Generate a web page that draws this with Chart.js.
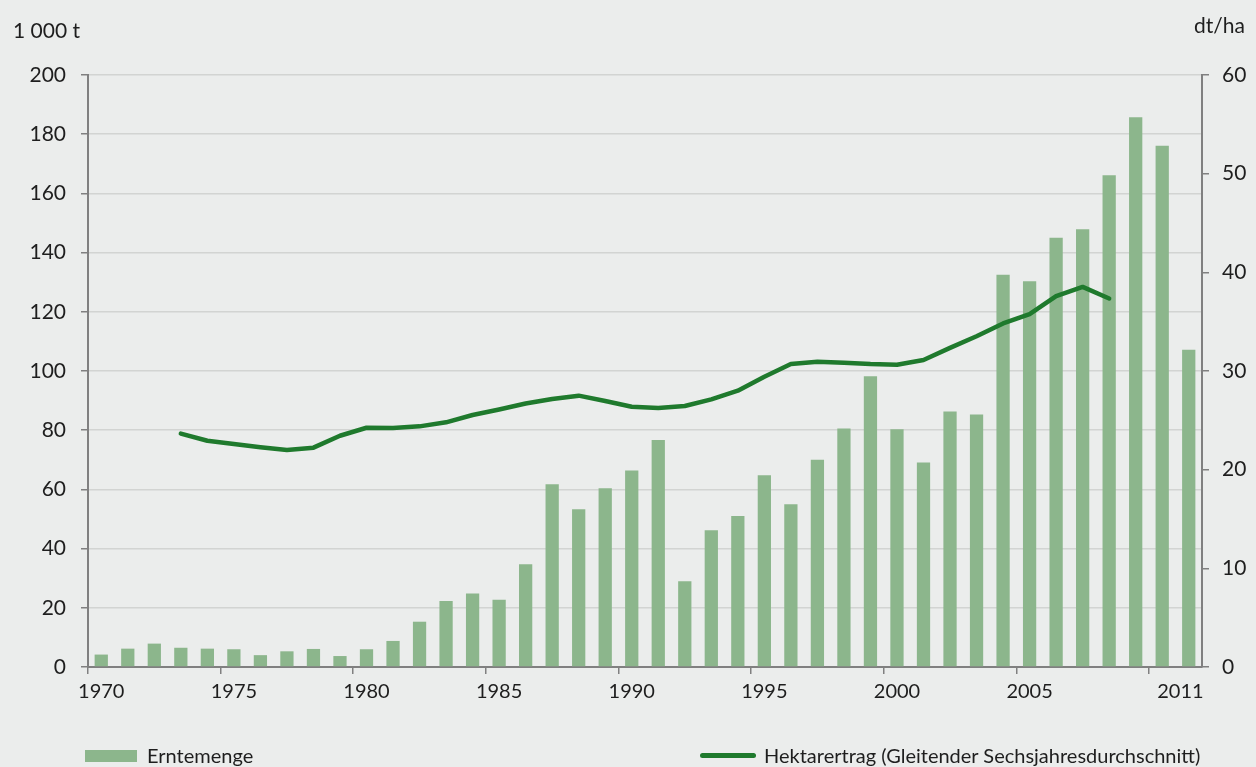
<!DOCTYPE html>
<html lang="de">
<head>
<meta charset="utf-8">
<script src="https://cdn.jsdelivr.net/npm/chart.js@4/dist/chart.umd.min.js"></script>
<style>
  html, body { margin:0; padding:0; background:#ebedec; }
  #wrap { position:relative; width:1256px; height:767px; background:#ebedec; font-family:Lato, "Open Sans", sans-serif; color:#1e1e1e; }
  canvas { position:absolute; left:0; top:0; }
  .lbl { position:absolute; font-size:20px; line-height:1; white-space:nowrap; }
  .box { position:absolute; }
</style>
</head>
<body>
<div id="wrap">
  <canvas id="c" width="1256" height="767"></canvas>
  <div class="lbl" style="left:13px; top:19px; font-size:21px;">1 000 t</div>
  <div class="lbl" style="right:11px; top:14px; font-size:21px;">dt/ha</div>
  <div class="box" style="left:85px; top:750px; width:52px; height:12px; background:#8cb68c;"></div>
  <div class="lbl" style="left:147px; top:745px;">Erntemenge</div>
  <div class="box" style="left:700px; top:753px; width:56px; height:5px; border-radius:3px; background:#1f7a2d;"></div>
  <div class="lbl" style="left:764px; top:745px;">Hektarertrag (Gleitender Sechsjahresdurchschnitt)</div>
</div>
<script>
const years = [1970,1971,1972,1973,1974,1975,1976,1977,1978,1979,1980,1981,1982,1983,1984,1985,1986,1987,1988,1989,1990,1991,1992,1993,1994,1995,1996,1997,1998,1999,2000,2001,2002,2003,2004,2005,2006,2007,2008,2009,2010,2011];
const erntemenge = [4.2,6.2,7.9,6.5,6.2,6.0,4.0,5.3,6.1,3.7,6.0,8.8,15.3,22.3,24.8,22.7,34.7,61.7,53.3,60.4,66.4,76.7,29.0,46.2,51.0,64.8,55.0,70.0,80.6,98.2,80.3,69.1,86.3,85.3,132.5,130.3,145.0,147.9,166.1,185.7,176.1,107.2];
const hektarertrag = [null,null,null,23.65,22.93,22.6,22.27,22.0,22.23,23.44,24.25,24.22,24.39,24.8,25.54,26.1,26.7,27.16,27.5,26.96,26.38,26.25,26.45,27.13,28.0,29.42,30.7,30.94,30.84,30.7,30.64,31.11,32.34,33.52,34.82,35.77,37.58,38.52,37.35,null,null,null];
const leftTicks = [0,200,20];
const rightTicks = [0,60,10];

const FONT = { family: 'Lato, "Open Sans", sans-serif', size: 20 };
const YFONT = { family: 'Lato, "Open Sans", sans-serif', size: 21 };
const TEXT = '#1e1e1e';
const AXIS = '#808080';

new Chart(document.getElementById('c'), {
  data: {
    labels: years.map(String),
    datasets: [
      { type:'line', label:'Hektarertrag (Gleitender Sechsjahresdurchschnitt)', data: hektarertrag, yAxisID:'y1',
        borderColor:'#1f7a2d', borderWidth:4.5, pointRadius:0, tension:0, borderCapStyle:'round', borderJoinStyle:'round', spanGaps:false, order:0 },
      { type:'bar', label:'Erntemenge', data: erntemenge, yAxisID:'y',
        backgroundColor:'#8cb68c', barPercentage:0.5, categoryPercentage:1.0, order:1 }
    ]
  },
  options: {
    responsive:false, animation:false,
    layout: { padding: { top:75, bottom:60, left:0, right:0 } },
    plugins: { legend:{ display:false }, tooltip:{ enabled:false } },
    scales: {
      x: {
        offset:true,
        grid: { offset:true, drawOnChartArea:false, tickLength:7, lineWidth:1.5,
                color: (ctx) => (ctx.index % 5 === 0 && ctx.index <= 40) ? AXIS : 'rgba(0,0,0,0)' },
        border: { display:true, color:AXIS, width:2 },
        ticks: { autoSkip:false, maxRotation:0, minRotation:0, color:TEXT, font:FONT, padding:6,
                 callback: (v, i) => (i % 5 === 0 && i < 40) ? String(years[i]) : (i === 41 ? years[i] + '\u2007 ' : '') },
        afterFit: (s) => { s.height = 40; }
      },
      y: {
        position:'left', min:leftTicks[0], max:leftTicks[1],
        ticks: { stepSize:leftTicks[2], color:TEXT, font:YFONT, padding:15 },
        grid: { color:'#d2d4d2', lineWidth:1.5, tickLength:7, tickColor:AXIS },
        border: { display:true, color:AXIS, width:2 },
        afterFit: (s) => { s.width = 88; }
      },
      y1: {
        position:'right', min:rightTicks[0], max:rightTicks[1],
        ticks: { stepSize:rightTicks[2], color:TEXT, font:YFONT, padding:13 },
        grid: { drawOnChartArea:false, tickLength:7, tickColor:AXIS, lineWidth:1.5 },
        border: { display:true, color:AXIS, width:2 },
        afterFit: (s) => { s.width = 54; }
      }
    }
  }
});
</script>
</body>
</html>
